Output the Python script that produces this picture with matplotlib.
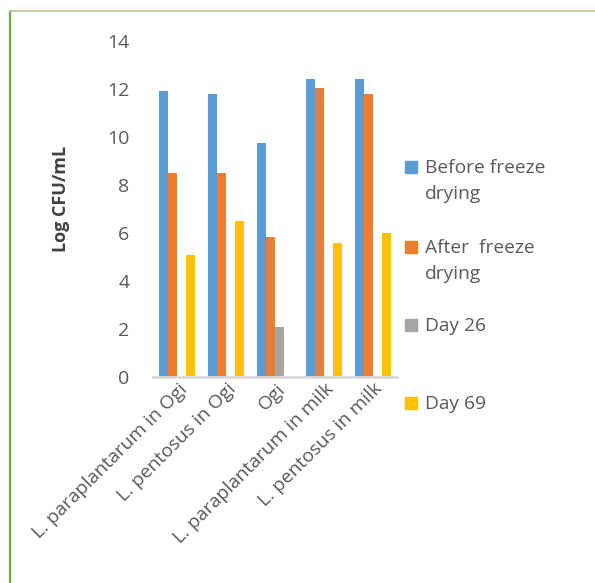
import matplotlib.pyplot as plt
import numpy as np
from matplotlib.patches import Rectangle
from matplotlib.lines import Line2D

# viable counts (log CFU/mL) per sample
samples = ["L. paraplantarum in Ogi", "L. pentosus in Ogi", "Ogi",
           "L. paraplantarum in milk", "L. pentosus in milk"]
series = ["Before freeze\ndrying", "After  freeze\ndrying", "Day 26", "Day 69"]
before_fd = [11.9, 11.8, 9.75, 12.4, 12.4]
after_fd = [8.5, 8.5, 5.85, 12.05, 11.8]
day26 = [0, 0, 2.1, 0, 0]
day69 = [5.1, 6.5, 0, 5.6, 6.0]
colors = ["#5b9bd5", "#ed7d31", "#a5a5a5", "#ffc000"]

plt.rcParams['font.family'] = ['Open Sans', 'DejaVu Sans']
grey = "#595959"

W, H = 595, 583
fig = plt.figure(figsize=(W / 100, H / 100), dpi=100)
ax = fig.add_axes([153 / W, 1 - 377 / H, 244 / W, 336 / H])

x = np.arange(len(samples))
bw = 0.185
for i, vals in enumerate([before_fd, after_fd, day26, day69]):
    ax.bar(x + (i - 1.5) * bw, vals, bw, color=colors[i], zorder=2)

ax.set_xlim(-0.5, len(samples) - 0.5)
ax.set_ylim(0, 14)
ax.set_yticks(np.arange(0, 15, 2))
ax.tick_params(axis='y', length=0, pad=17, labelsize=14, labelcolor=grey)
ax.tick_params(axis='x', length=0, pad=2, labelsize=13.8, labelcolor=grey)
ax.set_xticks(x + 0.02)
ax.set_xticklabels(samples, rotation=45, ha='right', rotation_mode='anchor')
for s in ['top', 'right', 'left']:
    ax.spines[s].set_visible(False)
ax.spines['bottom'].set_color('#d9d9d9')
ax.spines['bottom'].set_linewidth(2)

fig.text(61 / W, 1 - 199 / H, "Log CFU/mL", rotation=90, ha='center',
         va='center', fontsize=13, fontweight='bold', color='#404040')

# legend on the right
leg_y = [167, 247, 325, 403]
for name, c, yy in zip(series, colors, leg_y):
    fig.add_artist(Rectangle((405 / W, 1 - (yy + 6) / H), 12 / W, 12 / H,
                             transform=fig.transFigure, color=c))
    fig.text(425 / W, 1 - (yy - 8) / H, name, ha='left', va='top',
             fontsize=13.8, color=grey, linespacing=1.6)

# frame lines
fig.add_artist(Line2D([10 / W, 10 / W], [0, 1 - 11 / H], color='#70ad47',
                      lw=1.6, transform=fig.transFigure))
fig.add_artist(Line2D([10 / W, 1], [1 - 11 / H, 1 - 11 / H], color='#b4cf9e',
                      lw=1.2, transform=fig.transFigure))

fig.savefig("out.png", dpi=100)
